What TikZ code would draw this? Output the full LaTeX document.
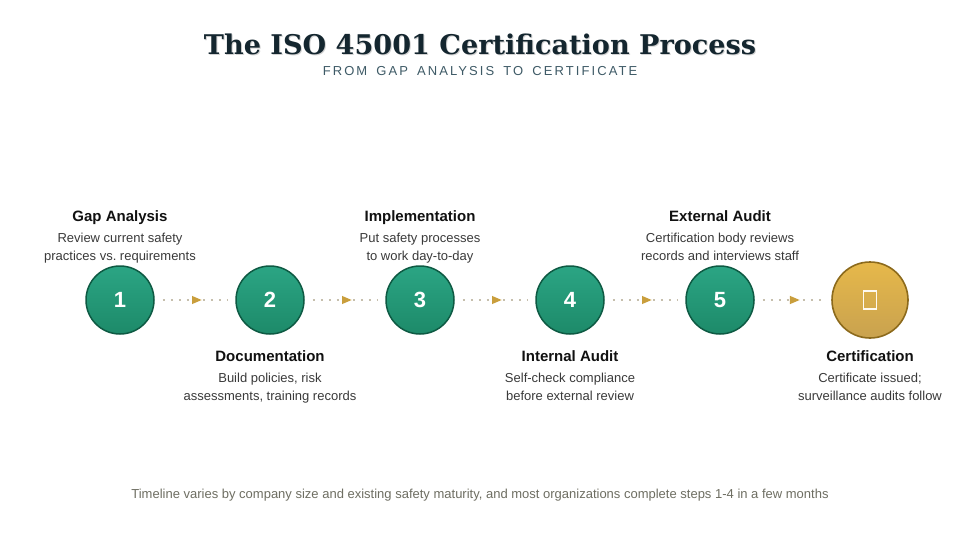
\documentclass[tikz,border=0pt]{standalone}
\usepackage{fontspec}
\setmainfont{Liberation Sans}
\newfontfamily\titlefont{DejaVu Serif}
\newfontfamily\spacedfont{Liberation Sans}[LetterSpace=16,WordSpace=1.6]
\usetikzlibrary{arrows.meta,decorations.markings}
\frenchspacing
\definecolor{titlecol}{HTML}{14262F}
\definecolor{subcol}{HTML}{3E5A66}
\definecolor{greentop}{HTML}{2BA584}
\definecolor{greenbot}{HTML}{1D8A69}
\definecolor{greenedge}{HTML}{0E5A43}
\definecolor{goldtop}{HTML}{E6B84A}
\definecolor{goldbot}{HTML}{C9A24F}
\definecolor{goldedge}{HTML}{8C6A1C}
\definecolor{dotcol}{HTML}{C6BFAD}
\definecolor{arrowcol}{HTML}{C99E3C}
\definecolor{headcol}{HTML}{111111}
\definecolor{desccol}{HTML}{3A3A3A}
\definecolor{footcol}{HTML}{6E6E62}
\tikzset{
  stepcirc/.style={circle, minimum size=68pt, inner sep=0pt, draw=greenedge, line width=1.5pt,
    top color=greentop, bottom color=greenbot, text=white,
    font=\fontsize{22}{24}\selectfont\bfseries},
  goldcirc/.style={circle, minimum size=76pt, inner sep=0pt, draw=goldedge, line width=1.6pt,
    top color=goldtop, bottom color=goldbot},
  conn/.style={draw=dotcol, line width=2.3pt, dash pattern=on 2.3pt off 5.7pt,
    shorten <=8pt, shorten >=7pt,
    postaction={decorate},
    decoration={markings, mark=at position 0.5 with {\arrow[xshift=7pt,arrowcol]{Triangle[length=10pt,width=7.5pt]}}}},
  stephead/.style={text=headcol, font=\fontsize{15}{18}\selectfont\bfseries, inner sep=0pt, anchor=base},
  stepdesc/.style={text=desccol, font=\fontsize{13}{18}\selectfont\frenchspacing, align=center, inner sep=0pt, anchor=base},
}
\begin{document}
\begin{tikzpicture}[x=1pt,y=-1pt]
\useasboundingbox (0,0) rectangle (960,540);
\fill[white] (0,0) rectangle (960,540);

\node[text=black!35, opacity=0.5, font=\fontsize{27.1}{32}\selectfont\titlefont\bfseries] (titleshadow) at (481,45.5) {The ISO 45001 Certification Process};
\node[text=titlecol, font=\fontsize{27.1}{32}\selectfont\titlefont\bfseries] (title) at (480,44) {The ISO 45001 Certification Process};
\node[text=subcol, font=\fontsize{13}{15}\selectfont\spacedfont] (subtitle) at (480,71.5) {FROM GAP ANALYSIS TO CERTIFICATE};

\node[stepcirc] (s1) at (120,300) {1};
\node[stepcirc] (s2) at (270,300) {2};
\node[stepcirc] (s3) at (420,300) {3};
\node[stepcirc] (s4) at (570,300) {4};
\node[stepcirc] (s5) at (720,300) {5};
\node[goldcirc] (s6) at (870,300) {};
\draw[draw=white!92!goldtop, line width=1.2pt] (863.5,291) rectangle (876.5,309);
\coordinate (tofu) at (870,300);

\path[conn] (s1) -- (s2);
\path[conn] (s2) -- (s3);
\path[conn] (s3) -- (s4);
\path[conn] (s4) -- (s5);
\path[conn] (s5) -- (s6);

\node[stephead] (h1) at (120,221) {Gap Analysis};
\node[stepdesc] (d1) at (120,260) {Review current safety\\practices vs. requirements};
\node[stephead] (h3) at (420,221) {Implementation};
\node[stepdesc] (d3) at (420,260) {Put safety processes\\to work day-to-day};
\node[stephead] (h5) at (720,221) {External Audit};
\node[stepdesc] (d5) at (720,260) {Certification body reviews\\records and interviews staff};

\node[stephead] (h2) at (270,361) {Documentation};
\node[stepdesc] (d2) at (270,400) {Build policies, risk\\assessments, training records};
\node[stephead] (h4) at (570,361) {Internal Audit};
\node[stepdesc] (d4) at (570,400) {Self-check compliance\\before external review};
\node[stephead] (h6) at (870,361) {Certification};
\node[stepdesc] (d6) at (870,400) {Certificate issued;\\surveillance audits follow};

\node[text=footcol, font=\fontsize{13}{16}\selectfont] (foot) at (480,495) {Timeline varies by company size and existing safety maturity, and most organizations complete steps 1-4 in a few months};
\end{tikzpicture}
\end{document}
